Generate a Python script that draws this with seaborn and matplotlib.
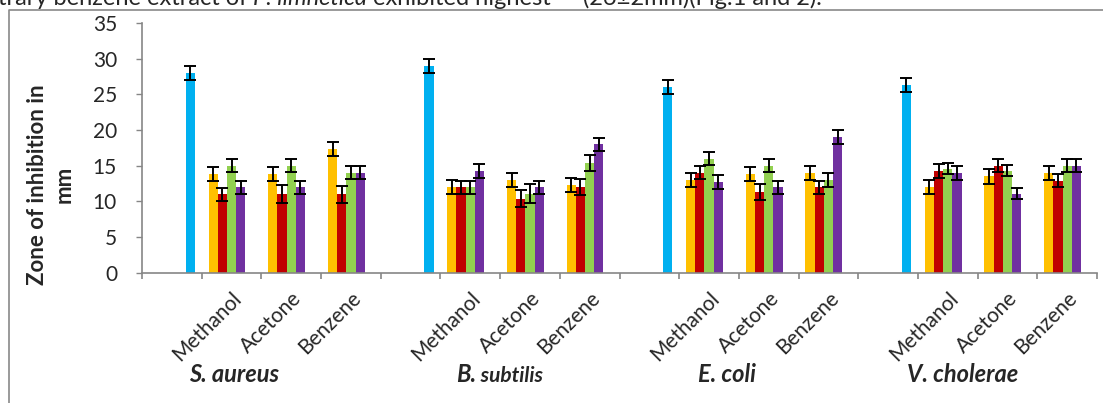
import numpy as np
import pandas as pd
import matplotlib
matplotlib.use("Agg")
import matplotlib.pyplot as plt
from matplotlib.lines import Line2D
from matplotlib.transforms import blended_transform_factory
import seaborn as sns

# datos
organisms = ["S. aureus", "B. subtilis", "E. coli", "V. cholerae"]
extracts = ["Methanol", "Acetone", "Benzene"]
series_names = ["Series 1", "Series 2", "Series 3", "Series 4", "Standard"]
colors = ["#FFC000", "#C00000", "#92D050", "#7030A0", "#00B0F0"]

standard = [28.0, 29.0, 26.0, 26.3]
standard_err = [1.0, 1.0, 1.0, 1.0]

# por organismo: Methanol, Acetone, Benzene
s1 = [13.8, 13.8, 17.3, 12.0, 13.0, 12.3, 13.0, 13.8, 14.0, 12.0, 13.5, 14.0]
s2 = [11.0, 11.0, 11.0, 12.0, 10.4, 12.0, 14.0, 11.3, 12.0, 14.3, 15.0, 12.9]
s3 = [15.0, 15.0, 14.0, 12.0, 11.1, 15.4, 16.0, 15.0, 13.0, 14.6, 14.3, 15.0]
s4 = [12.0, 12.0, 14.0, 14.3, 12.0, 18.0, 12.7, 12.0, 19.0, 14.0, 11.1, 15.0]

s1_err = [1.0, 1.0, 1.0, 1.0, 1.0, 1.0, 1.0, 1.0, 1.0, 1.0, 1.0, 1.0]
s2_err = [0.9, 1.3, 1.2, 0.9, 1.2, 1.1, 0.9, 1.1, 0.9, 1.0, 0.95, 0.9]
s3_err = [0.9, 0.9, 0.9, 0.9, 1.3, 1.1, 0.95, 0.95, 0.95, 0.75, 0.75, 0.95]
s4_err = [0.9, 0.9, 0.9, 1.0, 0.9, 0.95, 1.0, 0.9, 0.95, 0.95, 0.75, 0.95]

x_labels = ["", "Methanol", "Acetone", "Benzene"] * 4


def build_frame():
    vals = [s1, s2, s3, s4]
    errs = [s1_err, s2_err, s3_err, s4_err]
    rows = []
    for g, org in enumerate(organisms):
        slot = f"{org}|Standard"
        for k, name in enumerate(series_names):
            if name == "Standard":
                rows.append((slot, name, standard[g], standard_err[g]))
            else:
                rows.append((slot, name, 0.0, np.nan))
        for e, ext in enumerate(extracts):
            slot = f"{org}|{ext}"
            i = g * 3 + e
            for k, name in enumerate(series_names):
                if name == "Standard":
                    rows.append((slot, name, 0.0, np.nan))
                else:
                    rows.append((slot, name, vals[k][i], errs[k][i]))
    return pd.DataFrame(rows, columns=["slot", "series", "value", "err"])


def main():
    df = build_frame()
    slots = list(dict.fromkeys(df["slot"]))

    sns.set_style("white")
    plt.rcParams["font.family"] = ["Lato", "DejaVu Sans"]

    fig = plt.figure(figsize=(11.03, 4.03), dpi=100)
    ax = fig.add_axes([142 / 1103, 1 - 272.7 / 403, 955 / 1103, 249.7 / 403])

    sns.barplot(data=df, x="slot", y="value", hue="series", order=slots,
                hue_order=series_names, palette=colors, width=0.77,
                errorbar=None, saturation=1, legend=False, linewidth=0, ax=ax)

    # barras de error desde las barras dibujadas
    bar_containers = list(ax.containers)
    for k, cont in enumerate(bar_containers):
        sub = df[df["series"] == series_names[k]].set_index("slot").loc[slots]
        xs, ys, es = [], [], []
        for bar, (_, r) in zip(cont, sub.iterrows()):
            if np.isnan(r["err"]):
                continue
            xs.append(bar.get_x() + bar.get_width() / 2)
            ys.append(bar.get_height())
            es.append(r["err"])
        ax.errorbar(xs, ys, yerr=es, fmt="none", ecolor="black",
                    elinewidth=1.4, capsize=4.3, capthick=1.4, zorder=3)

    ax.set_xlim(-0.5, len(slots) - 0.5)
    ax.set_ylim(0, 35)
    ax.set_yticks(range(0, 36, 5))
    ax.tick_params(axis="y", labelsize=15, length=4, color="#868686",
                   width=1, pad=14, left=True)
    ax.set_xticks(range(len(slots)))
    ax.set_xticklabels(x_labels, rotation=45, ha="right",
                       rotation_mode="anchor", fontsize=15)
    ax.tick_params(axis="x", length=0, pad=11)
    ax.set_xticks(np.arange(-0.5, len(slots), 1), minor=True)
    ax.tick_params(axis="x", which="minor", length=4, color="#868686",
                   width=1.2, bottom=True)
    ax.set_xlabel("")

    for s in ["top", "right"]:
        ax.spines[s].set_visible(False)
    for s in ["left", "bottom"]:
        ax.spines[s].set_color("#868686")
        ax.spines[s].set_linewidth(1.2)

    ax.set_ylabel("Zone of inhibition in\nmm", fontsize=16, fontweight="bold",
                  linespacing=1.3)
    ax.yaxis.set_label_coords(-0.071, 0.352)

    # etiquetas de grupo
    trans = blended_transform_factory(ax.transData, ax.transAxes)
    label_x = [1.05, 5.55, 9.3, 13.25]
    for org, x in zip(organisms, label_x):
        if org == "B. subtilis":
            t = ax.text(x - 0.62, -0.408, "B.", transform=trans, fontsize=17,
                        fontweight="bold", style="italic", ha="center",
                        va="center")
            ax.annotate(" subtilis", xy=(1, 0), xycoords=t, fontsize=15,
                        fontweight="bold", style="italic", ha="left",
                        va="bottom")
        else:
            ax.text(x, -0.408, org, transform=trans, fontsize=17,
                    fontweight="bold", style="italic", ha="center",
                    va="center")

    # texto del articulo cortado arriba
    y_top = 1 - 5 / 403
    t1 = fig.text(-0.002, y_top, "trary benzene extract of ", fontsize=17,
                  va="baseline", ha="left")
    t2 = ax.annotate("P. limnetica", xy=(1, 0), xycoords=t1, fontsize=17,
                     style="italic", ha="left", va="bottom",
                     annotation_clip=False)
    ax.annotate(" exhibited highest", xy=(1, 0), xycoords=t2, fontsize=17,
                ha="left", va="bottom", annotation_clip=False)
    fig.text(583 / 1103, y_top, "(26\u00b12mm)(Fig.1 and 2).", fontsize=17,
             va="baseline", ha="left")

    # borde del area del grafico
    fig.add_artist(Line2D([9 / 1103, 9 / 1103, 1], [0, 1 - 10 / 403, 1 - 10 / 403],
                          color="#898989", lw=1.2))

    fig.savefig("out.png", dpi=100)
    plt.close(fig)


if __name__ == "__main__":
    main()
